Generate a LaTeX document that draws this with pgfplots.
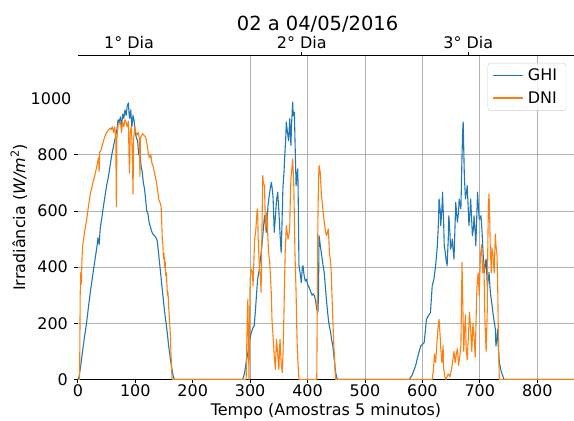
\documentclass[border=0pt]{standalone}
\usepackage{pgfplots}
\pgfplotsset{compat=1.18}
\usepackage{fontspec}
\setmainfont{DejaVu Sans}
\definecolor{tabblue}{HTML}{1F77B4}
\definecolor{taborange}{HTML}{FF7F0E}
\definecolor{gridgray}{HTML}{B0B0B0}
\definecolor{legframe}{HTML}{CCCCCC}
\begin{document}
\begin{tikzpicture}
\pgfplotsset{
  base/.style={
    scale only axis, width=496.8pt, height=324.5pt,
    xmin=0, xmax=864, ymin=0, ymax=1154,
    at={(0pt,0pt)}, anchor=south west,
    /pgf/number format/assume math mode=true,
    /pgf/number format/1000 sep={},
    tick align=outside, major tick length=3.5pt,
    every tick/.style={black, line width=0.8pt},
    ticklabel style={font=\fontsize{16}{19}\selectfont},
  }
}
\begin{axis}[base,
  separate axis lines,
  y axis line style={draw=none},
  x axis line style={black, line width=0.8pt},
  xtick={0,100,...,800}, xtick pos=lower,
  ytick={0,200,...,800}, ytick pos=left,
  extra x ticks={300,400,...,800}, extra x tick labels={},
  extra x tick style={grid=major, major tick length=0pt},
  extra y ticks={1000},
  extra y tick style={grid=none, major tick length=0pt},
  ymajorgrids,
  grid style={gridgray, line width=0.8pt},
  xticklabel style={anchor=north, inner sep=0pt, yshift=-1.5pt},
  yticklabel style={anchor=east, inner sep=0pt, xshift=-6.3pt},
  xlabel={Tempo (Amostras 5 minutos)},
  ylabel={Irradiância (\textit{W/m}\textsuperscript{2})},
  every axis x label/.style={at={(axis description cs:0.5,0)}, anchor=base, yshift=-36pt, font=\fontsize{16}{19}\selectfont},
  every axis y label/.style={at={(axis description cs:-0.1188,0.5)}, rotate=90, anchor=center, font=\fontsize{16}{19}\selectfont},
  title={02 a 04/05/2016},
  every axis title/.style={at={(axis description cs:0.4831,1)}, anchor=base, yshift=24.5pt, font=\fontsize{19.5}{23}\selectfont},
  legend style={at={(axis description cs:0.9843,0.9769)}, anchor=north east, draw=legframe, rounded corners=3pt, fill=white, fill opacity=0.8, text opacity=1, font=\fontsize{16}{19}\selectfont, inner xsep=5pt, inner ysep=4pt, row sep=5pt, nodes={inner xsep=4pt}},
  legend cell align=left,
  legend image code/.code={\draw[#1, line width=1.2pt] (-2pt,0pt) -- (28pt,0pt);},
  line join=round,
]
\addplot[tabblue, line width=1.1pt] coordinates {
(0,0)(2,10)(5,50)(10,130)(15,200)(20,285)(25,360)(30,430)(33,470)(35,505)(37,480)(39,540)(42,580)(44,610)(47,650)(50,690)(53,720)(56,760)(59,800)(62,830)(65,860)(68,890)(70,925)(72,915)(74,935)(76,900)(78,945)(80,930)(82,960)(84,940)(86,975)(88,985)(89,950)(90,930)(92,960)(94,900)(96,940)(98,920)(100,880)(102,860)(104,850)(106,800)(108,820)(110,760)(112,740)(114,700)(116,680)(118,640)(120,600)(122,590)(124,560)(126,545)(128,530)(130,520)(132,515)(134,510)(136,505)(138,495)(140,460)(142,420)(144,380)(146,340)(148,300)(150,260)(152,225)(154,195)(156,160)(158,120)(160,90)(162,60)(164,35)(166,12)(168,0)
(287,0)(290,20)(293,60)(296,95)(299,140)(302,167)(305,185)(307,190)(309,240)(311,300)(313,357)(316,393)(318,430)(320,470)(322,512)(324,560)(325,583)(327,550)(328,524)(330,580)(331,619)(333,650)(335,680)(337,702)(339,670)(340,643)(342,524)(344,580)(346,640)(348,667)(350,600)(352,520)(354,452)(355,520)(357,679)(359,740)(360,786)(362,860)(363,917)(365,880)(367,850)(369,929)(371,833)(372,900)(374,988)(375,940)(377,952)(378,860)(380,690)(381,720)(383,750)(384,600)(385,405)(387,380)(389,345)(391,400)(392,405)(394,370)(396,350)(398,357)(400,340)(402,330)(404,321)(406,310)(408,300)(410,305)(412,298)(414,280)(416,250)(418,240)(419,300)(420,512)(422,480)(424,450)(427,405)(429,380)(431,330)(433,280)(435,238)(437,200)(440,170)(442,140)(444,119)(446,80)(449,24)(451,5)(453,0)
(577,0)(582,15)(588,48)(593,90)(597,119)(600,125)(603,131)(605,170)(607,214)(610,226)(612,232)(614,238)(616,300)(617,333)(620,357)(623,405)(626,476)(628,560)(629,643)(631,600)(632,548)(634,610)(635,667)(637,560)(638,476)(640,450)(641,429)(643,405)(645,500)(646,583)(648,520)(649,464)(651,480)(652,500)(654,450)(655,429)(657,560)(658,631)(660,580)(661,560)(663,600)(664,643)(666,620)(667,607)(668,700)(669,800)(670,880)(671,917)(672,820)(673,726)(675,643)(677,670)(678,690)(680,600)(681,548)(683,600)(684,643)(686,560)(687,512)(689,540)(690,583)(692,520)(693,476)(695,600)(696,667)(698,600)(699,571)(701,575)(702,583)(704,520)(705,476)(707,400)(708,381)(710,420)(711,429)(713,333)(715,360)(716,381)(718,320)(719,298)(721,270)(722,250)(724,220)(727,179)(728,119)(730,150)(731,179)(732,120)(734,60)(737,30)(740,12)(742,0)(864,0)
};
\addlegendentry{GHI}
\addplot[taborange, line width=1.1pt] coordinates {
(0,0)(3,0)(4,300)(5,380)(6,340)(7,420)(8,470)(10,500)(12,530)(14,555)(16,580)(18,610)(20,640)(22,665)(24,680)(26,700)(28,715)(30,730)(32,750)(34,770)(36,790)(37,740)(38,810)(40,815)(42,830)(44,845)(46,860)(48,870)(50,880)(52,885)(54,890)(56,895)(58,890)(60,900)(62,880)(64,900)(66,860)(67,615)(68,860)(70,905)(72,910)(74,920)(76,880)(78,915)(80,900)(82,925)(84,915)(86,900)(88,920)(89,800)(90,735)(91,880)(93,900)(95,800)(96,660)(97,850)(99,900)(101,880)(103,870)(105,880)(107,860)(108,723)(109,860)(111,870)(113,875)(115,870)(117,865)(119,855)(121,830)(123,800)(125,790)(127,800)(129,770)(131,760)(133,740)(135,720)(137,700)(139,670)(141,640)(143,630)(145,615)(146,560)(147,500)(148,480)(149,430)(150,450)(151,400)(152,420)(153,370)(154,380)(155,340)(156,300)(157,310)(158,260)(159,230)(160,200)(161,160)(162,100)(163,50)(164,0)
(293,0)(295,214)(296,286)(297,150)(298,0)(299,200)(300,357)(302,393)(304,380)(305,333)(307,452)(308,500)(310,536)(312,600)(313,607)(314,500)(316,405)(318,360)(319,310)(320,450)(321,600)(322,726)(323,700)(325,690)(326,600)(327,536)(328,560)(329,595)(331,500)(332,452)(334,420)(335,381)(337,300)(338,214)(339,180)(341,119)(342,80)(344,36)(345,100)(346,143)(348,90)(350,36)(351,100)(352,143)(354,60)(356,24)(357,80)(358,155)(359,250)(360,357)(361,450)(363,548)(364,530)(366,500)(368,520)(369,548)(370,650)(371,714)(373,760)(374,786)(375,740)(376,690)(377,580)(378,452)(379,380)(380,310)(381,200)(382,120)(383,71)(385,0)(416,0)(417,300)(418,571)(419,700)(420,762)(421,750)(422,738)(423,700)(424,660)(426,619)(428,580)(430,548)(431,530)(433,512)(434,520)(436,536)(437,500)(438,452)(440,420)(441,393)(442,330)(443,270)(444,214)(445,160)(446,110)(447,71)(448,30)(449,0)
(617,0)(619,30)(621,90)(623,60)(625,120)(627,180)(629,214)(631,150)(632,110)(634,60)(636,120)(637,40)(639,10)(641,0)(645,20)(648,10)(651,40)(653,70)(655,100)(657,60)(659,90)(661,110)(663,50)(665,80)(667,120)(669,417)(670,300)(671,200)(672,100)(673,160)(675,230)(676,120)(678,70)(680,150)(682,240)(684,180)(686,100)(688,200)(690,150)(692,80)(694,260)(695,330)(697,380)(699,300)(701,440)(703,480)(705,380)(707,420)(709,200)(711,100)(713,250)(714,500)(715,620)(716,660)(717,600)(718,480)(720,380)(721,470)(723,440)(725,380)(727,518)(728,480)(730,440)(731,350)(732,200)(733,80)(734,0)(864,0)
};
\addlegendentry{DNI}
\end{axis}
\begin{axis}[base,
  axis x line*=top, axis y line=none,
  x axis line style={black, line width=0.8pt},
  xtick={89,390,680}, xticklabels={1° Dia,2° Dia,3° Dia},
  ytick=\empty,
  xticklabel style={anchor=south, inner sep=0pt, yshift=3pt},
]
\end{axis}
\pgfresetboundingbox
\path[use as bounding box] (-78pt,-41pt) rectangle (496.8pt,380pt);
\end{tikzpicture}
\end{document}
